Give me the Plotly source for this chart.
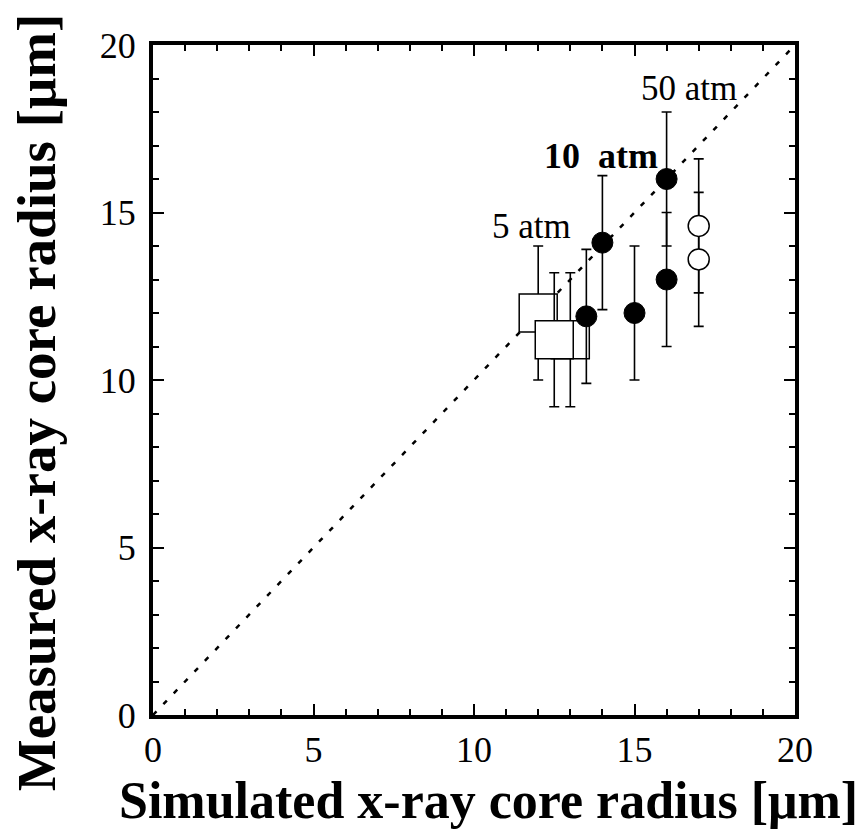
import plotly.graph_objects as go

# ---- data ----
sq_x = [12.0, 13.0, 12.5]
sq_y = [12.0, 11.2, 11.2]
sq_err = [2.0, 2.0, 2.0]

filled_x = [13.5, 14.0, 15.0, 16.0, 16.0]
filled_y = [11.9, 14.1, 12.0, 13.0, 16.0]
filled_err = [2.0, 2.0, 2.0, 2.0, 2.0]

open_x = [17.0, 17.0]
open_y = [13.6, 14.6]
open_err = [2.0, 2.0]

diag_x = [0, 20]
diag_y = [0, 20]

label_text = ["50 atm", "<b>10\u00a0\u00a0atm</b>", "5 atm"]
label_x = [16.7, 13.97, 11.8]
label_y = [18.7, 16.7, 14.57]
label_size = [35, 36, 35]

x_ticks = [0, 5, 10, 15, 20]
y_ticks = [0, 5, 10, 15, 20]

x_title = "Simulated x-ray core radius [μm]"
y_title = "Measured x-ray core radius [μm]"

FONT = "Liberation Serif"

fig = go.Figure()

fig.add_trace(go.Scatter(
    x=diag_x, y=diag_y, mode="lines",
    line=dict(color="black", width=2.5, dash="5px,10px"),
    showlegend=False, hoverinfo="skip"))

# squares, each its own trace so later boxes overlay earlier error bars
for xi, yi, ei in zip(sq_x, sq_y, sq_err):
    fig.add_trace(go.Scatter(
        x=[xi], y=[yi], mode="markers",
        marker=dict(symbol="square", size=38, color="white",
                    line=dict(color="black", width=1.5)),
        error_y=dict(type="data", array=[ei], color="black", thickness=1.6, width=5),
        showlegend=False))

fig.add_trace(go.Scatter(
    x=filled_x, y=filled_y, mode="markers",
    marker=dict(symbol="circle", size=21, color="black",
                line=dict(color="black", width=1)),
    error_y=dict(type="data", array=filled_err, color="black", thickness=1.6, width=5),
    showlegend=False))

fig.add_trace(go.Scatter(
    x=open_x, y=open_y, mode="markers",
    marker=dict(symbol="circle", size=21, color="white",
                line=dict(color="black", width=1.5)),
    error_y=dict(type="data", array=open_err, color="black", thickness=1.6, width=5),
    showlegend=False))

for t, xi, yi, s in zip(label_text, label_x, label_y, label_size):
    fig.add_annotation(x=xi, y=yi, text=t, showarrow=False,
                       font=dict(family=FONT, size=s, color="black"),
                       xanchor="center", yanchor="middle")

# axis titles (placed as paper annotations for exact position)
fig.add_annotation(xref="paper", yref="paper", x=0.522, y=-0.127,
                   text=x_title, showarrow=False,
                   font=dict(family=FONT, size=52, color="black", weight="bold"),
                   xanchor="center", yanchor="middle")
fig.add_annotation(xref="paper", yref="paper", x=-0.182, y=0.467,
                   text=y_title, showarrow=False, textangle=-90,
                   font=dict(family=FONT, size=55, color="black", weight="bold"),
                   xanchor="center", yanchor="middle")

axis_common = dict(
    range=[0, 20], showgrid=False, zeroline=False,
    showline=True, linecolor="black", linewidth=4, mirror="allticks",
    ticks="inside", ticklen=11, tickwidth=2, tickcolor="black",
    minor=dict(dtick=1, ticks="inside", ticklen=6, tickwidth=1.5, tickcolor="black"),
    tickfont=dict(family=FONT, size=36, color="black"),
)

fig.update_xaxes(**axis_common, tickvals=x_ticks, ticktext=[str(v) for v in x_ticks])
fig.update_yaxes(**axis_common, tickvals=y_ticks, ticktext=[str(v) for v in y_ticks],
                 ticklabelstandoff=6)

fig.update_layout(
    width=864, height=830,
    margin=dict(l=153, r=69, t=45, b=115, autoexpand=False),
    plot_bgcolor="white", paper_bgcolor="white",
    showlegend=False,
)

fig.write_html("out.html")
